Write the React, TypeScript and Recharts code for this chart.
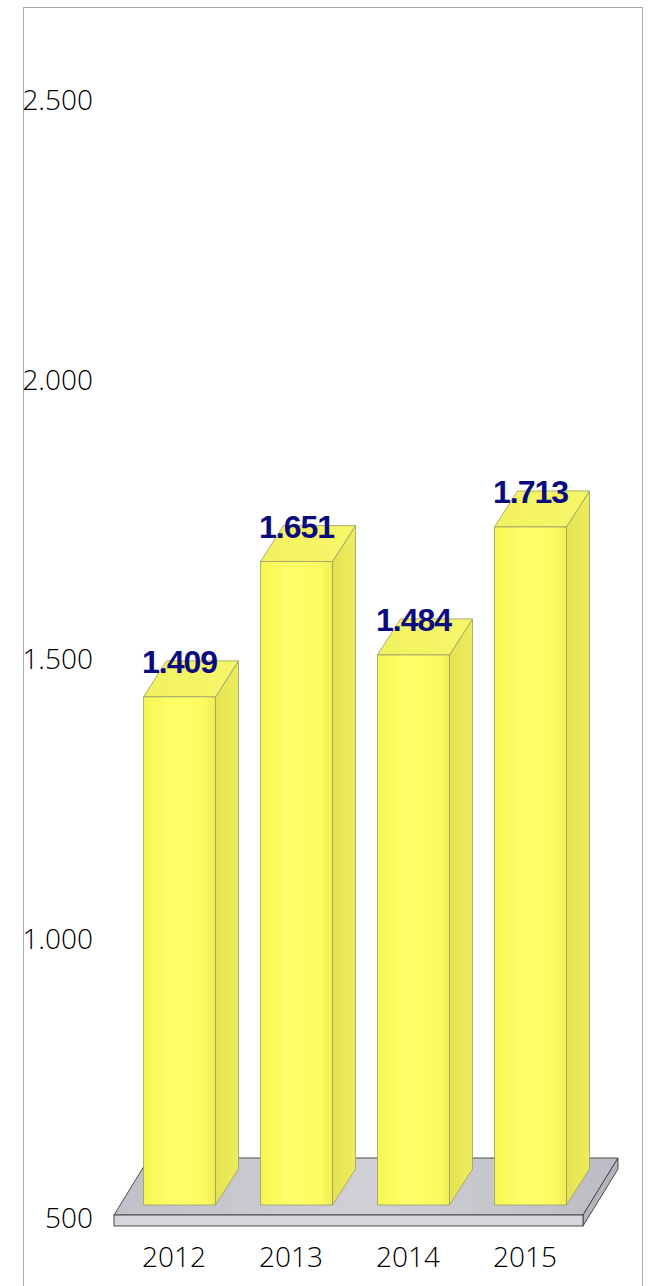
import React from "react";
import { BarChart, Bar, XAxis, YAxis, LabelList } from "recharts";

const years = ["2012", "2013", "2014", "2015"];
const values = [1409, 1651, 1484, 1713];
const yTicks = [500, 1000, 1500, 2000, 2500];

const data = years.map((year, i) => ({ year, value: values[i] }));

const WIDTH = 649;
const HEIGHT = 1286;
const MARGIN = { top: 87, right: 60.5, bottom: 0, left: 20.5 };
const Y_AXIS_WIDTH = 100;
const X_AXIS_HEIGHT = 81;
const PLOT_LEFT = MARGIN.left + Y_AXIS_WIDTH;
const PLOT_RIGHT = WIDTH - MARGIN.right;
const PLOT_BOTTOM = HEIGHT - X_AXIS_HEIGHT;

// 3d depth of the bars and floor
const DX = 23;
const DY = 36;

const fmt = (v: number) => String(v).replace(/\B(?=(\d{3})+(?!\d))/g, ".");

const axisFont = "'Open Sans', 'Liberation Sans', sans-serif";

function Bar3D(props: any) {
  const { x, y, width, height } = props;
  const r = x + width;
  const b = y + height;
  return (
    <g stroke="#9a9a6a" strokeWidth={0.8} strokeLinejoin="round">
      <polygon
        points={`${r},${y} ${r + DX},${y - DY} ${r + DX},${b - DY} ${r},${b}`}
        fill="url(#sideGrad)"
      />
      <polygon
        points={`${x},${y} ${x + DX},${y - DY} ${r + DX},${y - DY} ${r},${y}`}
        fill="url(#topGrad)"
      />
      <rect x={x} y={y} width={width} height={height} fill="url(#frontGrad)" />
    </g>
  );
}

function ValueLabel(props: any) {
  const { x, y, width, value } = props;
  return (
    <text
      x={x + width / 2}
      y={y - DY + 12}
      textAnchor="middle"
      fill="#0b0b80"
      fontFamily="'Liberation Sans', Arial, sans-serif"
      fontWeight="bold"
      fontSize={32}
      letterSpacing={-1}
    >
      {fmt(value)}
    </text>
  );
}

function YTick(props: any) {
  const { x, y, payload } = props;
  return (
    <text
      x={x - 27.5}
      y={y + 23}
      textAnchor="end"
      fill="#000"
      fontFamily={axisFont}
      fontWeight={300}
      fontSize={28}
    >
      {fmt(payload.value)}
    </text>
  );
}

function XTick(props: any) {
  const { x, y, payload } = props;
  return (
    <text
      x={x - 5}
      y={y + 62}
      textAnchor="middle"
      fill="#000"
      fontFamily={axisFont}
      fontWeight={300}
      fontSize={28}
    >
      {payload.value}
    </text>
  );
}

function Floor() {
  const fl = PLOT_LEFT - 6.5;
  const fr = PLOT_RIGHT - 5.5;
  const top = PLOT_BOTTOM + 10;
  const bot = top + 11;
  const fdx = 35;
  const fdy = 57;
  return (
    <svg
      width={WIDTH}
      height={HEIGHT}
      style={{ position: "absolute", left: 0, top: 0 }}
    >
      <defs>
        <linearGradient id="floorTop" x1="0" y1="0" x2="1" y2="0">
          <stop offset="0%" stopColor="#c0c0c8" />
          <stop offset="50%" stopColor="#d0d0d6" />
          <stop offset="100%" stopColor="#bcbcc4" />
        </linearGradient>
      </defs>
      <g stroke="#4a4a4a" strokeWidth={1}>
        <polygon
          points={`${fl},${top} ${fl + fdx},${top - fdy} ${fr + fdx},${top - fdy} ${fr},${top}`}
          fill="url(#floorTop)"
        />
        <polygon
          points={`${fr},${top} ${fr + fdx},${top - fdy} ${fr + fdx},${bot - fdy} ${fr},${bot}`}
          fill="#b4b4bc"
        />
        <rect x={fl} y={top} width={fr - fl} height={bot - top} fill="#d6d6dc" />
      </g>
    </svg>
  );
}

export default function App() {
  return (
    <div
      style={{
        position: "absolute",
        left: 0,
        top: 0,
        width: WIDTH,
        height: HEIGHT,
        overflow: "hidden",
        background: "#fff",
      }}
    >
      <div
        style={{
          position: "absolute",
          left: 23,
          top: 7,
          width: 620,
          height: HEIGHT - 7,
          boxSizing: "border-box",
          border: "1px solid #a8a8a8",
          borderBottom: "none",
        }}
      />
      <Floor />
      <div style={{ position: "absolute", left: 0, top: 0 }}>
        <BarChart width={WIDTH} height={HEIGHT} data={data} margin={MARGIN}>
          <defs>
            <linearGradient id="frontGrad" x1="0" y1="0" x2="1" y2="0">
              <stop offset="0%" stopColor="#f6f650" />
              <stop offset="40%" stopColor="#ffff6a" />
              <stop offset="85%" stopColor="#fbfb60" />
              <stop offset="100%" stopColor="#eeee55" />
            </linearGradient>
            <linearGradient id="sideGrad" x1="0" y1="0" x2="1" y2="0">
              <stop offset="0%" stopColor="#e4e452" />
              <stop offset="100%" stopColor="#ecec5e" />
            </linearGradient>
            <linearGradient id="topGrad" x1="0" y1="0" x2="1" y2="0">
              <stop offset="0%" stopColor="#f2f260" />
              <stop offset="100%" stopColor="#f6f66a" />
            </linearGradient>
          </defs>
          <XAxis
            dataKey="year"
            height={X_AXIS_HEIGHT}
            axisLine={false}
            tickLine={false}
            tickSize={0}
            tickMargin={0}
            tick={<XTick />}
            interval={0}
          />
          <YAxis
            width={Y_AXIS_WIDTH}
            domain={[500, 2500]}
            ticks={yTicks}
            axisLine={false}
            tickLine={false}
            tickSize={0}
            tickMargin={0}
            tick={<YTick />}
            interval={0}
          />
          <Bar dataKey="value" barSize={72} shape={<Bar3D />} isAnimationActive={false}>
            <LabelList dataKey="value" content={<ValueLabel />} />
          </Bar>
        </BarChart>
      </div>
    </div>
  );
}
